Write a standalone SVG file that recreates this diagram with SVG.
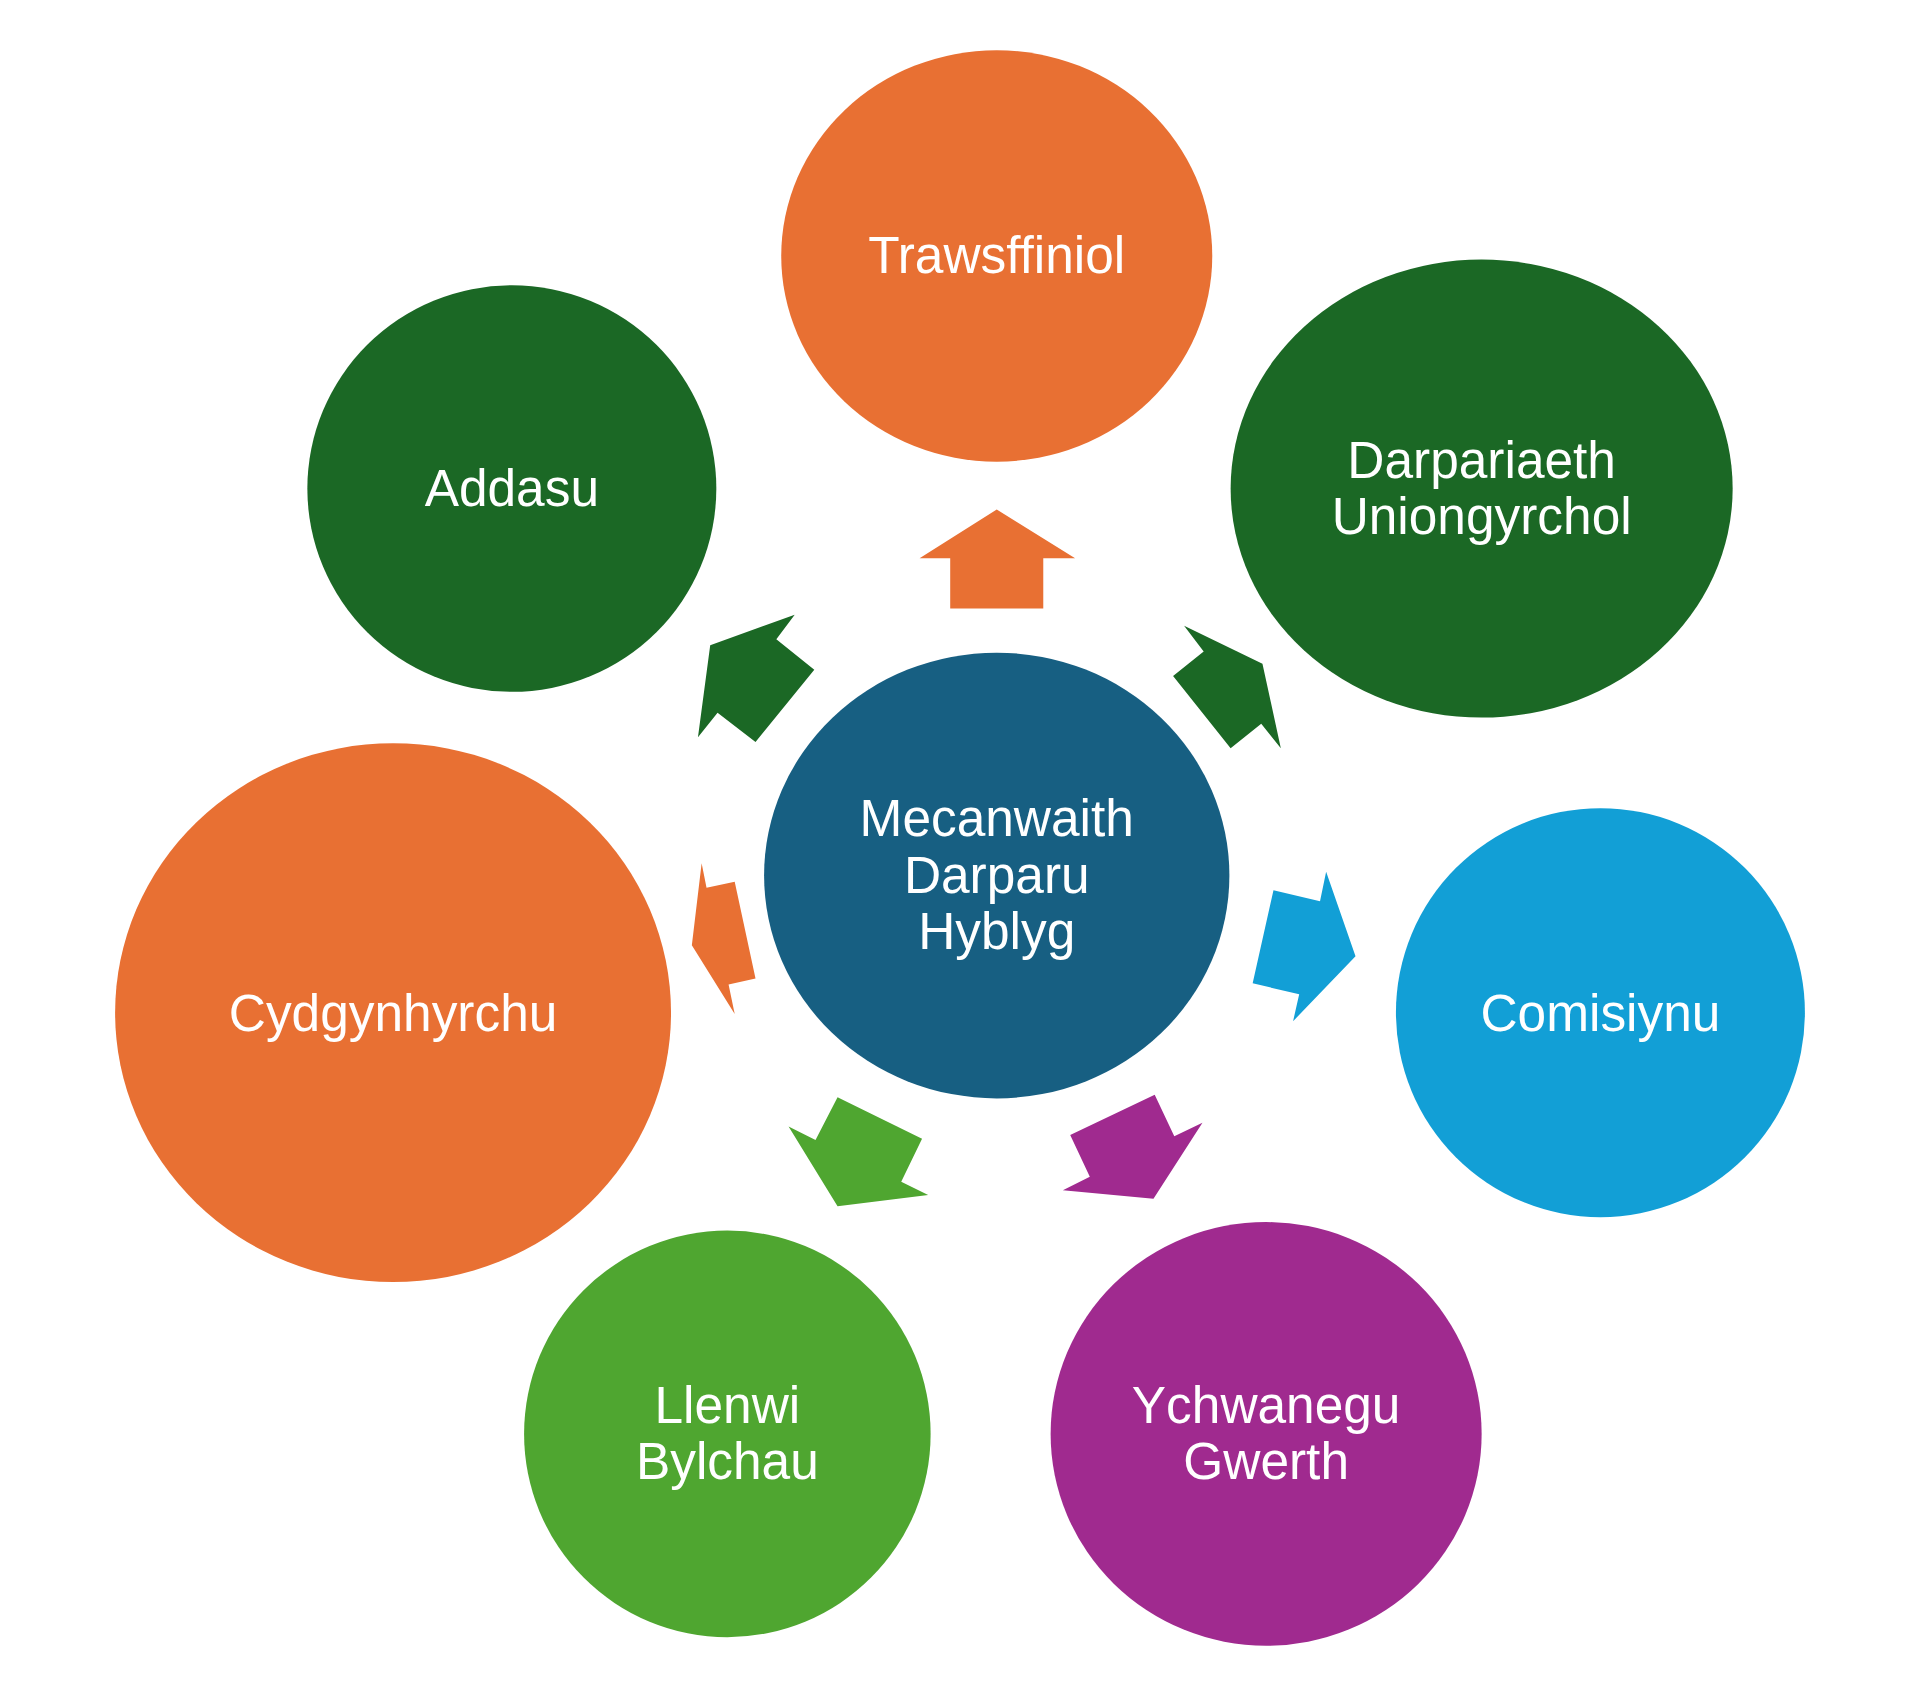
<svg xmlns="http://www.w3.org/2000/svg" width="1920" height="1697" viewBox="0 0 1920 1697">
<style>
text{font-family:"Liberation Sans",Arial,sans-serif;font-size:42px;fill:#fff;text-anchor:middle}
.o{fill:#E87033}.dg{fill:#1B6825}.t{fill:#175F82}.b{fill:#129FD6}.p{fill:#A02A8F}.lg{fill:#4FA630}
</style>
<rect width="1920" height="1697" fill="#fff"/>
<g transform="scale(1.2245)">
<g id="connectors">
<polygon class="o" points="814,416 878,456 852,456 852,497 776,497 776,456 751,456"/>
<polygon class="dg" points="649,502 634,522 665,547 617,606 586,582 570,602 580,527"/>
<polygon class="dg" points="967,511 1031,542 1046,611 1030,591 1005,611 958,552 983,532"/>
<polygon class="b" points="1083,712 1107,781 1056,834 1061,812 1023,803 1040,727 1078,736"/>
<polygon class="p" points="982,917 942,979 868,972 890,961 874,927 943,894 959,928"/>
<polygon class="lg" points="758,976 684,985 644,920 666,931 684,896 753,930 736,965"/>
<polygon class="o" points="573,705 577,725 600,720 617,799 595,804 600,828 565,772"/>
</g>
<g id="center"><ellipse class="t" cx="814" cy="715" rx="190" ry="182"/><text x="814" y="683">Mecanwaith</text><text x="814" y="729">Darparu</text><text x="814" y="775">Hyblyg</text></g>
<g id="trawsffiniol"><ellipse class="o" cx="814" cy="209" rx="176" ry="168"/><text x="814" y="223">Trawsffiniol</text></g>
<g id="addasu"><ellipse class="dg" cx="418" cy="399" rx="167" ry="166"/><text x="418" y="413">Addasu</text></g>
<g id="darpariaeth"><ellipse class="dg" cx="1210" cy="399" rx="205" ry="187"/><text x="1210" y="390">Darpariaeth</text><text x="1210" y="436">Uniongyrchol</text></g>
<g id="comisiynu"><ellipse class="b" cx="1307" cy="827" rx="167" ry="167"/><text x="1307" y="842">Comisiynu</text></g>
<g id="cydgynhyrchu"><ellipse class="o" cx="321" cy="827" rx="227" ry="220"/><text x="321" y="842">Cydgynhyrchu</text></g>
<g id="llenwi"><ellipse class="lg" cx="594" cy="1171" rx="166" ry="166"/><text x="594" y="1162">Llenwi</text><text x="594" y="1208">Bylchau</text></g>
<g id="ychwanegu"><ellipse class="p" cx="1034" cy="1171" rx="176" ry="173"/><text x="1034" y="1162">Ychwanegu</text><text x="1034" y="1208">Gwerth</text></g>
</g>
</svg>
